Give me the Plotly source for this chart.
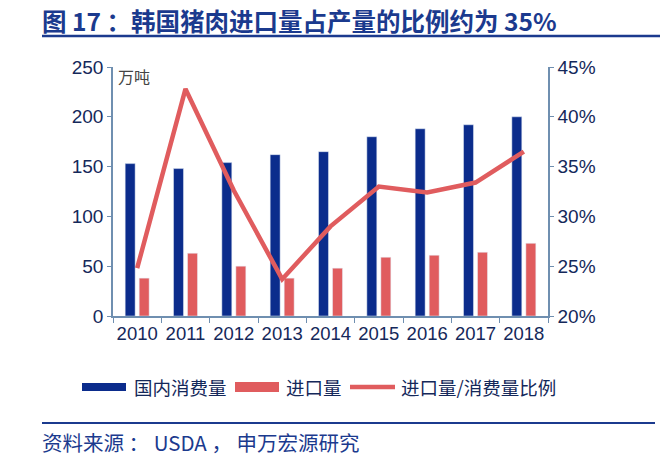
import plotly.graph_objects as go

years = ["2010", "2011", "2012", "2013", "2014", "2015", "2016", "2017", "2018"]
domestic = [153, 148, 154, 162, 165, 180, 188, 192, 200]
imports = [38, 63, 50, 38, 48, 59, 61, 64, 73]
ratio = [24.8, 42.8, 32.6, 23.7, 29.0, 33.0, 32.4, 33.4, 36.5]

left_ticks = [0, 50, 100, 150, 200, 250]
right_ticks = [20, 25, 30, 35, 40, 45]
right_labels = ["20%", "25%", "30%", "35%", "40%", "45%"]

series_names = ["国内消费量", "进口量", "进口量/消费量比例"]

NAVY = "#0b2c8c"
RED = "#e05c5e"
AXIS = "#6f8fb0"
TXT = "#14285a"
TITLE = "#1b3a8e"
FONT = "Liberation Sans, Noto Sans CJK SC, sans-serif"
CJK = "Noto Sans CJK SC, sans-serif"

fig = go.Figure()
fig.add_trace(go.Bar(x=years, y=domestic, name=series_names[0], marker_color=NAVY))
fig.add_trace(go.Bar(x=years, y=imports, name=series_names[1], marker_color=RED))
fig.add_trace(go.Scatter(x=years, y=ratio, name=series_names[2], yaxis="y2",
                         mode="lines", line=dict(color=RED, width=4.5)))

fig.update_layout(
    width=660, height=462,
    margin=dict(l=113, r=112, t=67, b=146),
    paper_bgcolor="white", plot_bgcolor="white",
    barmode="group", bargap=0.42, bargroupgap=0.29,
    font=dict(family=FONT, color=TXT, size=18.5),
    showlegend=False,
    xaxis=dict(type="category", showline=True, linecolor=AXIS, linewidth=1.5,
               ticks="outside", tickson="boundaries", ticklen=5, tickcolor=AXIS,
               tickangle=0,
               tickfont=dict(family=FONT, size=18.5, color=TXT), showgrid=False),
    yaxis=dict(range=[0, 250], tickvals=left_ticks, showline=True, linecolor=AXIS,
               linewidth=1.5, ticks="outside", ticklen=4, tickcolor=AXIS,
               showgrid=False, zeroline=False,
               tickfont=dict(family=FONT, size=19, color=TXT)),
    yaxis2=dict(range=[20, 45], tickvals=right_ticks, ticktext=right_labels,
                overlaying="y", side="right", showline=True, linecolor=AXIS,
                linewidth=1.5, ticks="outside", ticklen=4, tickcolor=AXIS,
                showgrid=False, zeroline=False,
                tickfont=dict(family=FONT, size=19, color=TXT)),
)


def px(X):
    return (X - 113) / 435


def py(Y):
    return (316 - Y) / 249


# title
fig.add_annotation(text="<b>图 17 ：韩国猪肉进口量占产量的比例约为 35%</b>",
                   xref="paper", yref="paper", x=px(40), xanchor="left",
                   y=py(20), yanchor="middle", showarrow=False,
                   font=dict(family=CJK, size=24.5, color=TITLE))
fig.add_shape(type="line", xref="paper", yref="paper",
              x0=px(42), x1=px(662), y0=py(36), y1=py(36),
              line=dict(color=TITLE, width=2.5))

# unit
fig.add_annotation(text="万吨", xref="paper", yref="paper",
                   x=px(116), xanchor="left", y=py(76), yanchor="middle",
                   showarrow=False, font=dict(family=CJK, size=16, color="#444444"))

# manual legend
fig.add_shape(type="rect", xref="paper", yref="paper",
              x0=px(82), x1=px(126), y0=py(383), y1=py(391),
              fillcolor=NAVY, line=dict(width=0))
fig.add_shape(type="rect", xref="paper", yref="paper",
              x0=px(235), x1=px(279), y0=py(382), y1=py(392),
              fillcolor=RED, line=dict(width=0))
fig.add_shape(type="line", xref="paper", yref="paper",
              x0=px(350), x1=px(395), y0=py(387), y1=py(387),
              line=dict(color=RED, width=4.5))
for name, xs in zip(series_names, [132, 284, 399]):
    fig.add_annotation(text=name, xref="paper", yref="paper",
                       x=px(xs), xanchor="left", y=py(387), yanchor="middle",
                       showarrow=False, font=dict(family=CJK, size=18.5, color=TXT))

# source
fig.add_shape(type="line", xref="paper", yref="paper",
              x0=px(42), x1=px(655), y0=py(423), y1=py(423),
              line=dict(color=TITLE, width=2))
fig.add_annotation(text="资料来源 ： USDA ， 申万宏源研究", xref="paper", yref="paper",
                   x=px(40), xanchor="left", y=py(442), yanchor="middle",
                   showarrow=False, font=dict(family=CJK, size=20.5, color=TITLE))

fig.write_html("out.html",
               config={"displayModeBar": False},
               post_script="document.body.style.margin='0';document.body.style.overflow='hidden';")
